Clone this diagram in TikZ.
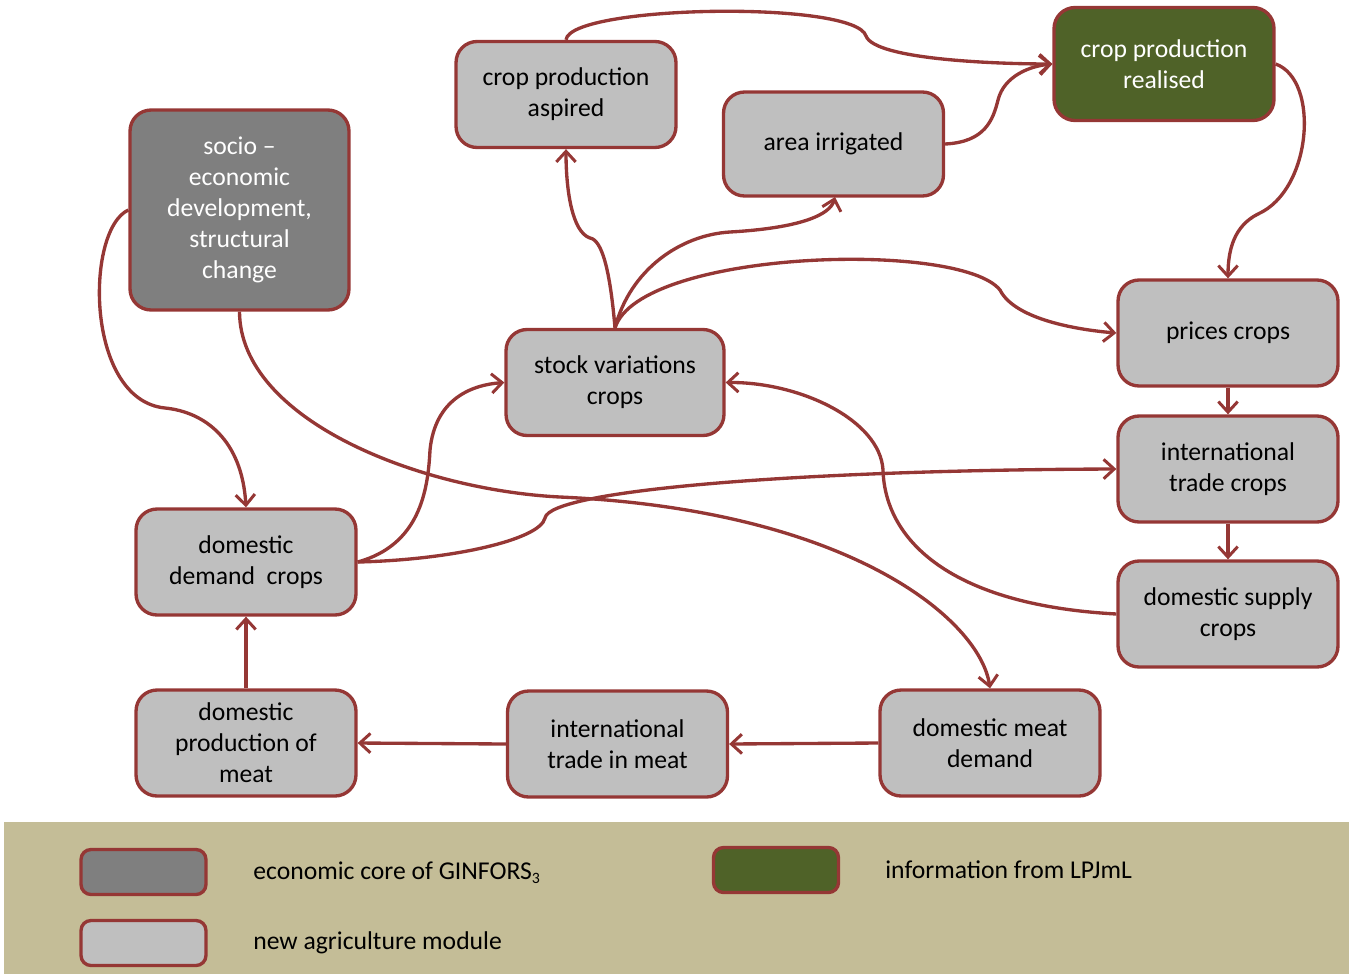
\documentclass[tikz,border=0pt]{standalone}
\usepackage{fontspec}
\setmainfont{Carlito}
\usetikzlibrary{arrows.meta}
\definecolor{bord}{HTML}{953735}
\definecolor{lgray}{HTML}{BFBFBF}
\definecolor{dgray}{HTML}{7F7F7F}
\definecolor{dgreen}{HTML}{4F6228}
\definecolor{tan}{HTML}{C4BD97}
\tikzset{
  box/.style={draw=bord, line width=1.9pt, rounded corners=0.42cm, fill=lgray,
    minimum width=4.4cm, minimum height=2.12cm, align=center, inner sep=0pt,
    font=\fontsize{14.6}{17.7}\selectfont, text=black},
  corebox/.style={box, fill=dgray, text=white},
  lpjbox/.style={box, fill=dgreen, text=white},
  conn/.style={draw=bord, line width=1.9pt, -{Straight Barb[length=6pt,width=11pt,line width=1.7pt]}},
  legbox/.style={draw=bord, line width=1.9pt, rounded corners=0.2cm, minimum width=2.5cm, minimum height=0.9cm, inner sep=0pt},
  legtext/.style={anchor=west, font=\fontsize{14.6}{17.7}\selectfont, inner sep=0pt}
}
\begin{document}
\begin{tikzpicture}[x=0.02cm, y=-0.02cm]
\useasboundingbox (0,0) rectangle (1351,974);
% legend band
\fill[tan] (4,822) rectangle (1349,974);
% nodes
\node[box] (asp) at (566,94.5) {crop production\\aspired};
\node[box, minimum height=2.08cm] (irr) at (833.5,144) {area irrigated};
\node[lpjbox, minimum height=2.26cm] (real) at (1164,64) {crop production\\realised};
\node[corebox, minimum width=4.38cm, minimum height=4cm] (soc) at (239.5,210) {socio –\\economic\\development,\\structural\\change};
\node[box, minimum width=4.36cm] (stock) at (615,382.5) {stock variations\\crops};
\node[box] (price) at (1228,333) {prices crops};
\node[box] (itc) at (1228,469) {international\\trade crops};
\node[box] (dsc) at (1228,614) {domestic supply\\crops};
\node[box] (ddc) at (246,562) {domestic\\demand~~crops};
\node[box] (dpm) at (246,743) {domestic\\production of\\meat};
\node[box] (itm) at (617.5,744) {international\\trade in meat};
\node[box] (dmd) at (990,743) {domestic meat\\demand};
% connectors
\draw[conn] (asp.north) .. controls (570,5) and (855,0) .. (866,36) .. controls (875,60) and (1000,64) .. (real.west);
\draw[conn] (irr.east) .. controls (985,142) and (993,120) .. (998,100) .. controls (1004,76) and (1030,66) .. (real.west);
\draw[conn] (real.east) .. controls (1320,80) and (1312,190) .. (1258,214) .. controls (1234,226) and (1228,250) .. (price.north);
\draw[conn] (stock.north) .. controls (610,270) and (602,240) .. (590,238) .. controls (572,232) and (566,190) .. (asp.south);
\draw[conn] (stock.north) .. controls (630,270) and (680,235) .. (730,232) .. controls (800,228) and (830,215) .. (835,197);
\draw[conn] (stock.north) .. controls (640,250) and (960,240) .. (1000,290) .. controls (1015,320) and (1080,330) .. (price.west);
\draw[conn] (price.south) -- (itc.north);
\draw[conn] (itc.south) -- (dsc.north);
\draw[conn] (dsc.west) .. controls (950,605) and (885,540) .. (883,470) .. controls (880,420) and (800,382) .. (stock.east);
\draw[conn] (ddc.east) .. controls (420,545) and (428,490) .. (430,450) .. controls (435,400) and (470,385) .. (stock.west);
\draw[conn] (ddc.east) .. controls (450,560) and (540,540) .. (545,518) .. controls (550,490) and (800,470) .. (itc.west);
\draw[conn] (soc.south) .. controls (240,420) and (420,490) .. (560,497) .. controls (850,510) and (980,620) .. (dmd.north);
\draw[conn] (soc.west) .. controls (85,230) and (85,400) .. (165,408) .. controls (205,412) and (242,440) .. (ddc.north);
\draw[conn] (dpm.north) -- (ddc.south);
\draw[conn] (itm.west) -- (dpm.east);
\draw[conn] (dmd.west) -- (itm.east);
% legend
\node[legbox, fill=dgray] (lg1) at (143.5,872) {};
\node[legbox, fill=lgray] (lg2) at (143.5,943) {};
\node[legbox, fill=dgreen] (lg3) at (776,870) {};
\node[legtext] (lt1) at (253,873) {economic core of GINFORS\raisebox{-0.35ex}{\fontsize{9}{9}\selectfont 3}};
\node[legtext] (lt2) at (253,943) {new agriculture module};
\node[legtext] (lt3) at (885,870) {information from LPJmL};
\end{tikzpicture}
\end{document}
